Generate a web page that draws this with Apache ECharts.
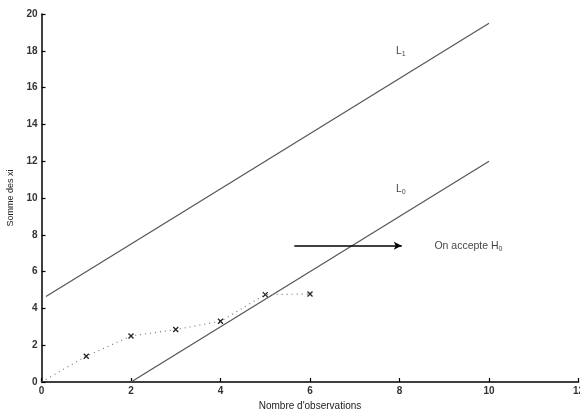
<!DOCTYPE html>
<html><head><meta charset="utf-8">
<script src="https://cdn.jsdelivr.net/npm/echarts@6/dist/echarts.min.js"></script>
<style>html,body{margin:0;padding:0;background:#fff}#c{width:580px;height:412px}</style>
</head><body><div id="c"></div>
<script>
const obsX = [0, 1, 2, 3, 4, 5, 6];
const obsY = [0, 1.4, 2.5, 2.85, 3.3, 4.75, 4.78];
const L1 = [[0.1, 4.65], [10, 19.5]];
const L0 = [[2.0, 0], [10, 12]];
const arrowFrom = [5.65, 7.4], arrowTo = [8.05, 7.4];
const xTicks = [0, 2, 4, 6, 8, 10, 12];
const yTicks = [0, 2, 4, 6, 8, 10, 12, 14, 16, 18, 20];
const labels = [
  {pos: [7.92, 18.0], text: '{m|L}{s|1}'},
  {pos: [7.92, 10.5], text: '{m|L}{s|0}'},
  {pos: [8.78, 7.4], text: '{m|On accepte H}{s|0}'}
];
const cross = 'path://M0,0L10,10M10,0L0,10';
const chart = echarts.init(document.getElementById('c'));
const font = 'Liberation Sans, Arial, sans-serif';
const rich = {
  m: {fontSize: 10.5, color: '#111', fontFamily: font},
  s: {fontSize: 7, color: '#111', fontFamily: font, padding: [7, 0, 0, 0]}
};
chart.setOption({
  animation: false,
  grid: {left: 41.5, right: 1.5, top: 14, bottom: 30, containLabel: false, outerBoundsMode: 'none'},
  xAxis: {type: 'value', min: 0, max: 12, interval: 2,
    name: "Nombre d'observations", nameLocation: 'middle', nameGap: 14,
    nameTextStyle: {fontSize: 10, color: '#222', fontFamily: font},
    axisLine: {show: true, lineStyle: {color: '#000', width: 1.5}},
    axisTick: {show: true, inside: true, length: 4, lineStyle: {color: '#000', width: 1.2}},
    axisLabel: {fontSize: 10, color: '#333', fontWeight: 'bold', margin: 4, fontFamily: font,
      hideOverlap: false, showMaxLabel: true, showMinLabel: true,
      formatter: v => xTicks.includes(v) ? String(v) : ''},
    splitLine: {show: false}},
  yAxis: {type: 'value', min: 0, max: 20, interval: 2,
    name: 'Somme des xi', nameLocation: 'middle', nameGap: 24, nameRotate: 90,
    nameTextStyle: {fontSize: 9, color: '#222', fontFamily: font},
    axisLine: {show: true, lineStyle: {color: '#000', width: 1.5}},
    axisTick: {show: true, inside: true, length: 4, lineStyle: {color: '#000', width: 1.2}},
    axisLabel: {fontSize: 10, color: '#333', fontWeight: 'bold', margin: 4, fontFamily: font,
      formatter: v => yTicks.includes(v) ? String(v) : ''},
    splitLine: {show: false}},
  series: [
    {type: 'line', data: L1, symbol: 'none', lineStyle: {color: '#555', width: 1.2}},
    {type: 'line', data: L0, symbol: 'none', lineStyle: {color: '#555', width: 1.2},
      markLine: {silent: true, symbol: ['none', 'arrow'], symbolSize: [6, 8], label: {show: false},
        lineStyle: {color: '#000', width: 1.5, type: 'solid'},
        data: [[{coord: arrowFrom}, {coord: arrowTo}]]}},
    {type: 'line', data: obsX.map((x, i) => ({value: [x, obsY[i]], symbol: i === 0 ? 'none' : cross})),
      symbolSize: 5, showSymbol: true,
      itemStyle: {color: '#fff', borderColor: '#222', borderWidth: 1.3},
      lineStyle: {color: '#777', width: 1.2, type: [1, 4]}},
    {type: 'scatter', symbolSize: 0,
      data: labels.map(l => ({value: l.pos, label: {formatter: l.text}})),
      label: {show: true, position: 'right', distance: 0, align: 'left', rich: rich}}
  ]
});
</script></body></html>
